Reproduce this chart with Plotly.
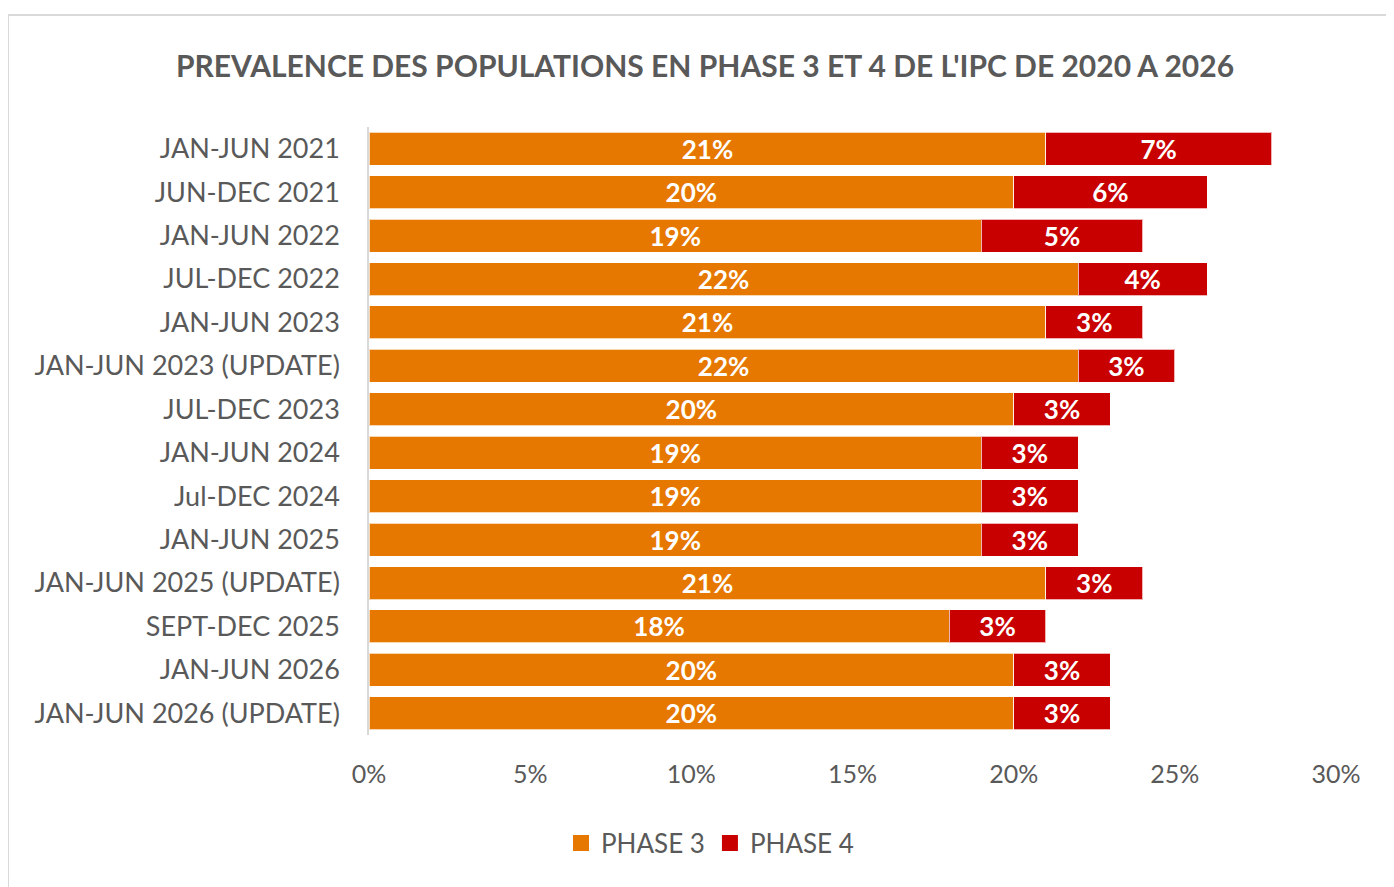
import plotly.graph_objects as go

categories = ["JAN-JUN 2021", "JUN-DEC 2021", "JAN-JUN 2022", "JUL-DEC 2022", "JAN-JUN 2023",
              "JAN-JUN 2023 (UPDATE)", "JUL-DEC 2023", "JAN-JUN 2024", "Jul-DEC 2024", "JAN-JUN 2025",
              "JAN-JUN 2025 (UPDATE)", "SEPT-DEC 2025", "JAN-JUN 2026", "JAN-JUN 2026 (UPDATE)"]
phase3 = [21, 20, 19, 22, 21, 22, 20, 19, 19, 19, 21, 18, 20, 20]
phase4 = [7, 6, 5, 4, 3, 3, 3, 3, 3, 3, 3, 3, 3, 3]
xticks = [0, 5, 10, 15, 20, 25, 30]
xticklabels = ["0%", "5%", "10%", "15%", "20%", "25%", "30%"]

FONT = "Lato"
GRAY = "#595959"
ORANGE = "#E67800"
RED = "#C80000"

W, H = 1386, 879
L, R, T, B = 361, 58, 119, 152
PW, PH = W - L - R, H - T - B

fig = go.Figure()
for name, vals, col in [("PHASE 3", phase3, ORANGE), ("PHASE 4", phase4, RED)]:
    fig.add_trace(go.Bar(
        y=categories, x=vals, name=name, orientation="h", showlegend=False,
        marker=dict(color=col, line=dict(color="rgba(255,255,255,0.7)", width=1)),
        text=[f"{v}%" for v in vals], texttemplate="%{text}",
        textposition="inside", insidetextanchor="middle", constraintext="none",
        textfont=dict(family=FONT, size=26, color="white", weight="bold"),
        cliponaxis=False,
    ))
    # legend entry with larger square swatch
    fig.add_trace(go.Scatter(
        x=[None], y=[None], mode="markers", name=name,
        marker=dict(symbol="square", size=17, color=col),
    ))

fig.update_layout(
    barmode="stack", bargap=0.24,
    width=W, height=H,
    margin=dict(l=L, r=R, t=T, b=B),
    paper_bgcolor="white", plot_bgcolor="white",
    font=dict(family=FONT, color=GRAY),
    title=dict(text="<b>PREVALENCE DES POPULATIONS EN PHASE 3 ET 4 DE L'IPC DE 2020 A 2026</b>",
               x=697/W, xanchor="center", y=1-58/H, yanchor="middle",
               font=dict(family=FONT, size=30, color=GRAY)),
    legend=dict(orientation="h", x=702/W, xanchor="center", xref="container",
                y=(H-835)/H, yanchor="middle", yref="container", itemsizing="trace",
                itemwidth=30,
                font=dict(family=FONT, size=26, color=GRAY), traceorder="normal"),
    showlegend=True,
)
fig.update_yaxes(autorange="reversed", showline=True, linecolor="#D9D9D9", linewidth=1.5,
                 showgrid=False, ticks="", tickfont=dict(family=FONT, size=27, color=GRAY),
                 ticklabelstandoff=22)
fig.update_xaxes(range=[0, 30], tickvals=xticks, ticktext=xticklabels, showgrid=False, showline=False,
                 zeroline=False, ticks="", tickfont=dict(family=FONT, size=25, color=GRAY),
                 ticklabelstandoff=22)

# chart outer border
fig.add_shape(type="rect", xref="paper", yref="paper",
              x0=(0 - L) / PW, x1=(W + 20 - L) / PW, y0=(H - B - (H + 20)) / PH, y1=(H - B - 7) / PH,
              line=dict(color="#D9D9D9", width=2), fillcolor="rgba(0,0,0,0)", layer="below")

fig.write_html("out.html")
